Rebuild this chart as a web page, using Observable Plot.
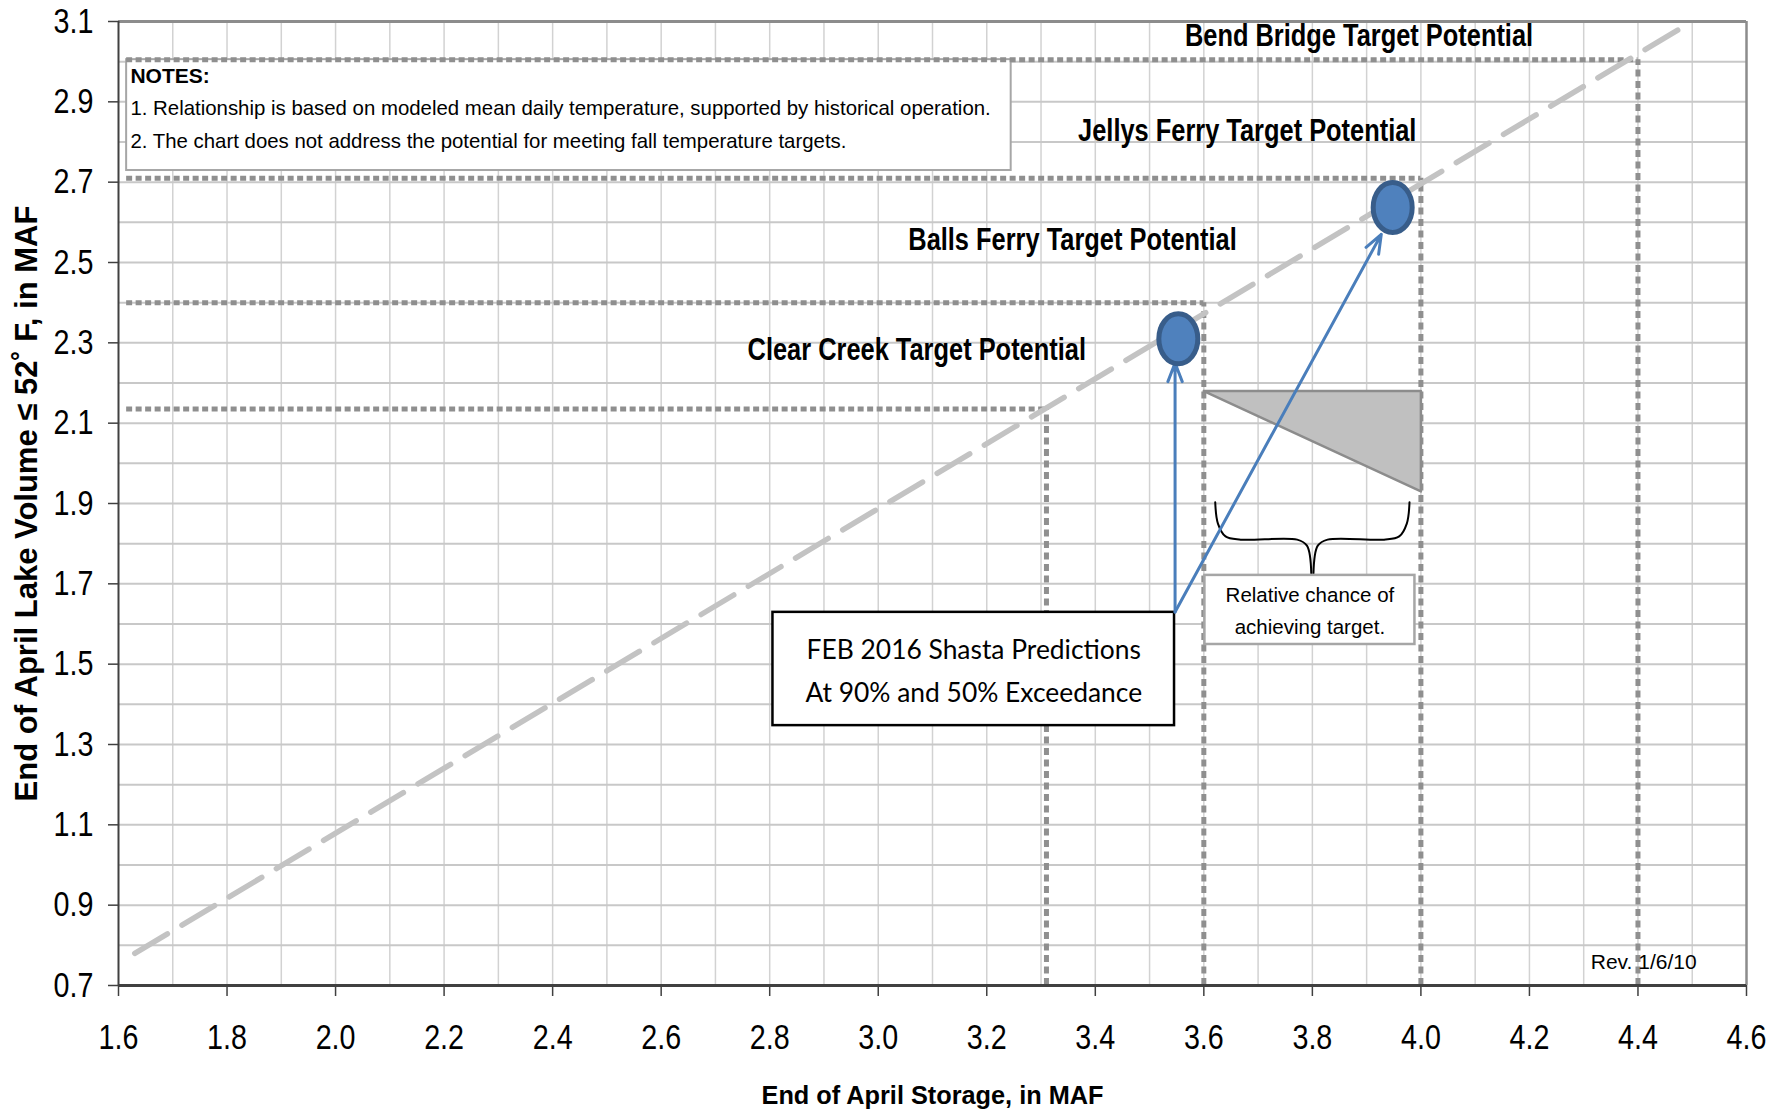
<!DOCTYPE html>
<html><head><meta charset="utf-8">
<script src="https://cdn.jsdelivr.net/npm/d3@7"></script>
<script src="https://cdn.jsdelivr.net/npm/@observablehq/plot@0.6"></script>
<style>body{margin:0;background:#fff} svg{display:block}</style>
</head><body><div id="chart"></div>
<script>
// ---------- data ----------
const xTicks = [1.6,1.8,2.0,2.2,2.4,2.6,2.8,3.0,3.2,3.4,3.6,3.8,4.0,4.2,4.4,4.6];
const yTicks = [0.7,0.9,1.1,1.3,1.5,1.7,1.9,2.1,2.3,2.5,2.7,2.9,3.1];
const xGrid = [1.7,1.8,1.9,2.0,2.1,2.2,2.3,2.4,2.5,2.6,2.7,2.8,2.9,3.0,3.1,3.2,3.3,3.4,3.5,3.6,3.7,3.8,3.9,4.0,4.1,4.2,4.3,4.4,4.5];
const yGrid = [0.8,0.9,1.0,1.1,1.2,1.3,1.4,1.5,1.6,1.7,1.8,1.9,2.0,2.1,2.2,2.3,2.4,2.5,2.6,2.7,2.8,2.9,3.0];

const relationX = [1.63, 4.5];
const relationY = [0.78, 3.1];

const targetNames = ["Clear Creek", "Balls Ferry", "Jellys Ferry", "Bend Bridge"];
const targetStorage = [3.31, 3.60, 4.00, 4.40];
const targetVolume = [2.135, 2.40, 2.71, 3.005];
const targetLabelX = [3.071, 3.358, 3.68, 3.886];
const targetLabelY = [2.281, 2.555, 2.828, 3.063];

const predictionStorage = [3.553, 3.948];
const predictionVolume = [2.31, 2.637];
const arrowFromX = 3.547, arrowFromY = 1.63;
const arrowToX = [3.547, 3.927];
const arrowToY = [2.25, 2.57];

const triangleX = [3.6, 4.0, 4.0, 3.6];
const triangleY = [2.18, 2.18, 1.93, 2.18];

const braceLeftX = [3.621, 3.626, 3.64, 3.668, 3.772, 3.79, 3.798];
const braceLeftY = [1.903, 1.85, 1.818, 1.81, 1.81, 1.795, 1.726];

const notesLines = ["NOTES:",
  "1. Relationship is based on modeled mean daily temperature, supported by historical operation.",
  "2. The chart does not address the potential for meeting fall temperature targets."];
const notesLineY = [2.946, 2.866, 2.786];
const notesBox = {x1: 1.615, x2: 3.245, y1: 2.729, y2: 3.005};

const febLines = ["FEB 2016 Shasta Predictions", "At 90% and 50% Exceedance"];
const febLineY = [1.514, 1.405];
const febBox = {x1: 2.806, x2: 3.546, y1: 1.347, y2: 1.629};

const chanceLines = ["Relative chance of", "achieving target."];
const chanceLineY = [1.654, 1.576];
const chanceBox = {x1: 3.602, x2: 3.989, y1: 1.549, y2: 1.721};

const revText = "Rev. 1/6/10";
const revX = 4.313, revY = 0.742;

// ---------- derived tables ----------
const relation = relationX.map((x, i) => ({x, y: relationY[i]}));
const targets = targetNames.map((n, i) => ({
  name: n, label: n + " Target Potential",
  x: targetStorage[i], y: targetVolume[i], lx: targetLabelX[i], ly: targetLabelY[i]
}));
const predictions = predictionStorage.map((x, i) => ({x, y: predictionVolume[i]}));
const arrows = arrowToX.map((x, i) => ({x1: arrowFromX, y1: arrowFromY, x2: x, y2: arrowToY[i]}));
const triangle = triangleX.map((x, i) => ({x, y: triangleY[i]}));
const brace = [
  ...braceLeftX.map((x, i) => ({side: "L", x, y: braceLeftY[i]})),
  ...braceLeftX.map((x, i) => ({side: "R", x: 7.6 - x, y: braceLeftY[i]}))
];
const notes = notesLines.map((t, i) => ({t, y: notesLineY[i], bold: i === 0}));
const feb = febLines.map((t, i) => ({t, y: febLineY[i]}));
const chance = chanceLines.map((t, i) => ({t, y: chanceLineY[i]}));

// "Arial Narrow" is not installed: text in these groups is condensed afterwards
const NARROW = "'Arial Narrow', 'Liberation Sans', Arial, sans-serif";
const ARIAL = "'Liberation Sans', Arial, sans-serif";

// ellipse symbol
const ellipse = {
  draw(ctx, size) {
    const r = Math.sqrt(size / Math.PI), rx = r * 0.78, ry = r, k = 0.5523;
    ctx.moveTo(rx, 0);
    ctx.bezierCurveTo(rx, ry * k, rx * k, ry, 0, ry);
    ctx.bezierCurveTo(-rx * k, ry, -rx, ry * k, -rx, 0);
    ctx.bezierCurveTo(-rx, -ry * k, -rx * k, -ry, 0, -ry);
    ctx.bezierCurveTo(rx * k, -ry, rx, -ry * k, rx, 0);
    ctx.closePath();
  }
};

const chart = Plot.plot({
  width: 1789, height: 1114,
  marginLeft: 118, marginRight: 43, marginTop: 21, marginBottom: 129,
  style: {fontFamily: ARIAL, color: "black", background: "white", overflow: "visible"},
  x: {domain: [1.6, 4.6]},
  y: {domain: [0.7, 3.1]},
  marks: [
    // grid
    Plot.ruleX(xGrid, {stroke: "#d2d2d2", strokeWidth: 1.5}),
    Plot.ruleY(yGrid, {stroke: "#c8c8c8", strokeWidth: 2}),
    // frame
    Plot.ruleY([3.1], {stroke: "#8c8c8c", strokeWidth: 3}),
    Plot.ruleX([4.6], {stroke: "#8c8c8c", strokeWidth: 2.5}),
    // notes box
    Plot.rect([notesBox], {x1: "x1", x2: "x2", y1: "y1", y2: "y2", fill: "white", stroke: "#a6a6a6", strokeWidth: 2}),
    // dotted target lines
    Plot.ruleY(targets, {y: "y", x1: 1.615, x2: "x", stroke: "#8f8f8f", strokeWidth: 5, strokeDasharray: "6,3.5"}),
    Plot.ruleX(targets, {x: "x", y1: 0.7, y2: "y", stroke: "#8f8f8f", strokeWidth: 5, strokeDasharray: "7,4.5"}),
    // relationship line
    Plot.line(relation, {x: "x", y: "y", stroke: "#c3c3c3", strokeWidth: 5.5, strokeDasharray: "38,17"}),
    // triangle
    Plot.line(triangle, {x: "x", y: "y", fill: "#c0c0c0", stroke: "#8c8c8c", strokeWidth: 2.5, z: null}),
    // brace
    Plot.line(brace, {x: "x", y: "y", z: "side", curve: "catmull-rom", stroke: "black", strokeWidth: 2}),
    // boxes
    Plot.rect([febBox], {x1: "x1", x2: "x2", y1: "y1", y2: "y2", fill: "white", stroke: "black", strokeWidth: 2.5}),
    Plot.rect([chanceBox], {x1: "x1", x2: "x2", y1: "y1", y2: "y2", fill: "white", stroke: "#a6a6a6", strokeWidth: 2.5}),
    // arrows
    Plot.arrow(arrows, {x1: "x1", y1: "y1", x2: "x2", y2: "y2", stroke: "#4a7ebb", strokeWidth: 3, headLength: 10, headAngle: 42}),
    // predictions
    Plot.dot(predictions, {x: "x", y: "y", r: 25, symbol: ellipse, fill: "#4f81bd", stroke: "#385d8a", strokeWidth: 5}),
    // axis lines
    Plot.ruleY([0.7], {stroke: "#404040", strokeWidth: 3}),
    Plot.ruleX([1.6], {stroke: "#404040", strokeWidth: 2}),
    // axes
    Plot.axisX({ticks: xTicks, tickFormat: d => d.toFixed(1), tickSize: 11, tickPadding: 28, fontSize: 35,
      fontFamily: NARROW, stroke: "#404040", strokeWidth: 1.5,
      label: "End of April Storage, in MAF", labelAnchor: "center", labelArrow: "none", labelOffset: 118}),
    Plot.axisY({ticks: yTicks, tickFormat: d => d.toFixed(1), tickSize: 10, tickPadding: 15, fontSize: 35,
      fontFamily: NARROW, stroke: "#404040", strokeWidth: 1.5,
      label: "End of April Lake Volume ≤ 52˚ F, in MAF", labelAnchor: "center", labelArrow: "none", labelOffset: 104}),
    // texts
    Plot.text(targets, {x: "lx", y: "ly", text: "label", fontFamily: NARROW, fontWeight: "bold", fontSize: 31, fill: "black", lineAnchor: "middle"}),
    Plot.text(notes.filter(d => d.bold), {x: 1.622, y: "y", text: "t", fontWeight: "bold", fontSize: 21, textAnchor: "start", lineAnchor: "bottom", fill: "black"}),
    Plot.text(notes.filter(d => !d.bold), {x: 1.622, y: "y", text: "t", fontSize: 20.4, textAnchor: "start", lineAnchor: "bottom", fill: "black"}),
    Plot.text(feb, {x: (febBox.x1 + febBox.x2) / 2, y: "y", text: "t", fontFamily: "Lato, 'Open Sans', sans-serif", fontSize: 26.4, lineAnchor: "bottom", fill: "black"}),
    Plot.text(chance, {x: (chanceBox.x1 + chanceBox.x2) / 2, y: "y", text: "t", fontSize: 20.5, lineAnchor: "bottom", fill: "black"}),
    Plot.text([revText], {x: revX, y: revY, text: d => d, fontSize: 21, textAnchor: "start", lineAnchor: "bottom", fill: "black"})
  ]
});
// axis titles: regular bold Arial
d3.select(chart).selectAll("g[aria-label='x-axis label']")
  .attr("font-family", ARIAL).attr("font-weight", "bold").attr("font-size", 25.3);
d3.select(chart).selectAll("g[aria-label='y-axis label']")
  .attr("font-family", ARIAL).attr("font-weight", "bold").attr("font-size", 31);
// condense the narrow-font texts (Arial Narrow ≈ Arial at 82% width)
d3.select(chart).selectAll("g[font-family*='Narrow'] text").each(function () {
  const t = this.getAttribute("transform") || "";
  this.setAttribute("transform", t + " scale(0.82,1)");
});
document.getElementById("chart").appendChild(chart);
</script>
</body></html>
